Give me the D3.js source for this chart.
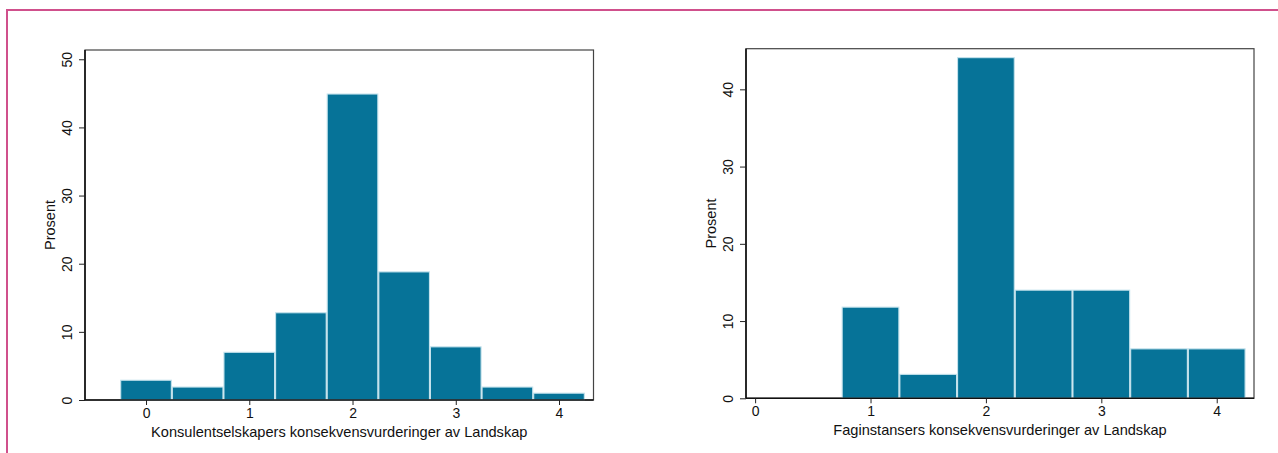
<!DOCTYPE html>
<html>
<head>
<meta charset="utf-8">
<script src="https://cdn.jsdelivr.net/npm/d3@7"></script>
<style>
  html, body { margin: 0; padding: 0; background: #fff; }
  svg { display: block; font-family: "Liberation Sans", Arial, sans-serif; }
</style>
</head>
<body>
<svg id="chart" width="1278" height="453"></svg>
<script>
// Histogram bins (score midpoints) and bin width
const binCenters = [0, 0.5, 1, 1.5, 2, 2.5, 3, 3.5, 4];
const binWidth = 0.5;

// Percent of assessments in each bin
const konsulentPct = [2.9, 1.9, 7.0, 12.8, 44.9, 18.8, 7.8, 1.9, 1.0];
const fagPct = [0, 0, 11.8, 3.1, 44.1, 14.0, 14.0, 6.4, 6.4];

// Axis ticks
const xTicks = [0, 1, 2, 3, 4];
const yTicksLeft = [0, 10, 20, 30, 40, 50];
const yTicksRight = [0, 10, 20, 30, 40];

const yLabel = "Prosent";
const xTitleLeft = "Konsulentselskapers konsekvensvurderinger av Landskap";
const xTitleRight = "Faginstansers konsekvensvurderinger av Landskap";

const svg = d3.select("#chart");

// Outer frame
svg.append("rect")
  .attr("x", 7).attr("y", 10)
  .attr("width", 1300).attr("height", 500)
  .attr("fill", "none")
  .attr("stroke", "#d0508c")
  .attr("stroke-width", 2);

function panel(cfg) {
  const g = svg.append("g");
  const x = d3.scaleLinear().domain(cfg.xDomain).range([cfg.left, cfg.right]);
  const y = d3.scaleLinear().domain(cfg.yDomain).range([cfg.bottom, cfg.top]);

  // plot region frame
  g.append("rect")
    .attr("x", cfg.left).attr("y", cfg.top)
    .attr("width", cfg.right - cfg.left).attr("height", cfg.bottom - cfg.top)
    .attr("fill", "none").attr("stroke", "#444").attr("stroke-width", 1.2);

  const data = binCenters.map((c, i) => ({ c, v: cfg.values[i] })).filter(d => d.v > 0);
  g.selectAll("rect.bar").data(data).join("rect")
    .attr("class", "bar")
    .attr("x", d => x(d.c - binWidth / 2) + 0.5)
    .attr("width", d => x(d.c + binWidth / 2) - x(d.c - binWidth / 2) - 1)
    .attr("y", d => y(d.v))
    .attr("height", d => y(0) - y(d.v))
    .attr("fill", "#067398")
    .attr("stroke", "#c4e2ec")
    .attr("stroke-width", 1.1);

  // x axis
  const xAxis = d3.axisBottom(x).tickValues(xTicks).tickFormat(d3.format("d"))
    .tickSize(5).tickSizeOuter(0).tickPadding(3);
  const gx = g.append("g").attr("transform", `translate(0,${cfg.bottom})`).call(xAxis);
  gx.select(".domain").attr("stroke", "#111").attr("stroke-width", 1.6)
    .attr("d", `M${cfg.left},0H${cfg.right}`);
  gx.selectAll(".tick line").attr("stroke", "#222");
  gx.selectAll(".tick text").attr("font-size", 14).attr("fill", "#111")
    .attr("font-family", "Liberation Sans, Arial, sans-serif");

  // y axis
  const yAxis = d3.axisLeft(y).tickValues(cfg.yTicks).tickFormat(d3.format("d"))
    .tickSize(6).tickSizeOuter(0).tickPadding(5);
  const gy = g.append("g").attr("transform", `translate(${cfg.left},0)`).call(yAxis);
  gy.select(".domain").attr("stroke", "#111").attr("stroke-width", 1.6)
    .attr("d", `M0,${cfg.top}V${cfg.bottom}`);
  gy.selectAll(".tick line").attr("stroke", "#222");
  gy.selectAll(".tick text")
    .attr("font-size", 14).attr("fill", "#111")
    .attr("font-family", "Liberation Sans, Arial, sans-serif")
    .attr("text-anchor", "middle")
    .attr("dy", null)
    .attr("x", null)
    .attr("transform", "translate(-18,0) rotate(-90)")
    .attr("dominant-baseline", "central");

  // axis titles
  g.append("text")
    .attr("transform", `translate(${cfg.left - 30},${(cfg.top + cfg.bottom) / 2}) rotate(-90)`)
    .attr("text-anchor", "middle")
    .attr("font-size", 14.5).attr("fill", "#111")
    .text(yLabel);

  g.append("text")
    .attr("x", (cfg.left + cfg.right) / 2)
    .attr("y", cfg.bottom + 37)
    .attr("text-anchor", "middle")
    .attr("font-size", 14.6).attr("fill", "#111")
    .text(cfg.xTitle);
}

panel({
  left: 85, right: 593.5, top: 50, bottom: 400,
  xDomain: [-0.591, 4.334], yDomain: [0, 51.36],
  values: konsulentPct, yTicks: yTicksLeft, xTitle: xTitleLeft
});

panel({
  left: 746, right: 1254, top: 48.7, bottom: 398.3,
  xDomain: [-0.079, 4.323], yDomain: [0, 45.26],
  values: fagPct, yTicks: yTicksRight, xTitle: xTitleRight
});
</script>
</body>
</html>
